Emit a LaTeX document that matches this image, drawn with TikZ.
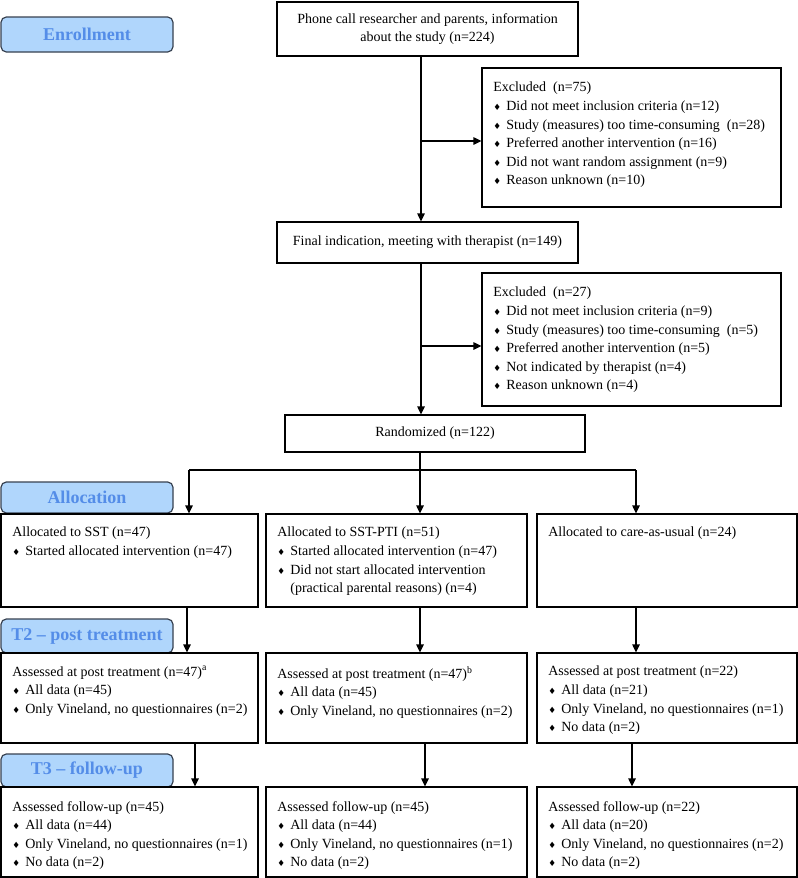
\documentclass[tikz,border=0pt]{standalone}
\usepackage{fontspec}
\setmainfont{Liberation Serif}
\newfontfamily\symfont{DejaVu Sans}
\usetikzlibrary{fit,arrows.meta}
\definecolor{phasefill}{RGB}{176,214,252}
\definecolor{phasetext}{RGB}{84,141,232}
\definecolor{phasedraw}{RGB}{55,65,80}
\tikzset{
 box/.style={draw, line width=0.8pt, inner sep=0pt},
 phase/.style={draw=phasedraw, fill=phasefill, line width=0.9pt, rounded corners=4pt, inner sep=0pt},
 phasetxt/.style={text=phasetext, font=\fontsize{13.5}{15}\selectfont\bfseries, inner sep=0pt},
 txt/.style={font=\fontsize{10.5}{13.9}\selectfont, align=left, inner sep=0pt, anchor=north west},
 ctxt/.style={font=\fontsize{10.5}{13.9}\selectfont, align=center, inner sep=0pt},
 arr/.style={line width=1.1pt, -{Triangle[length=6pt,width=5.5pt]}},
 ln/.style={line width=1.1pt},
}
\newcommand{\bul}{{\symfont\fontsize{6.5}{6.5}\selectfont ♦}\hspace{4pt}}
\begin{document}
\begin{tikzpicture}[x=0.75pt,y=-0.75pt]
\useasboundingbox (0,0) rectangle (798,878);
% phase boxes
\node[phase, fit={(1,17)(173,52)}] (enr) {};
\node[phasetxt] at (enr.center) {Enrollment};
\node[phase, fit={(1,482)(173,513)}] (alc) {};
\node[phasetxt] at (alc.center) {Allocation};
\node[phase, fit={(1,619)(173,653)}] (ttwo) {};
\node[phasetxt] at (ttwo.center) {T2 – post treatment};
\node[phase, fit={(1,754)(173,787)}] (tthree) {};
\node[phasetxt] at (tthree.center) {T3 – follow-up};
% enrollment boxes
\node[box, fit={(277,2)(578,56)}] (phone) {};
\node[ctxt] at (phone.center) {Phone call researcher and parents, information\\about the study (n=224)};
\node[box, fit={(482,68)(781,207)}] (exa) {};
\node[txt] at (493,82) {Excluded\ \ (n=75)\\
\bul Did not meet inclusion criteria (n=12)\\
\bul Study (measures) too time-consuming\ \ (n=28)\\
\bul Preferred another intervention (n=16)\\
\bul Did not want random assignment (n=9)\\
\bul Reason unknown (n=10)};
\node[box, fit={(277,222)(578,263)}] (final) {};
\node[ctxt] at (final.center) {Final indication, meeting with therapist (n=149)};
\node[box, fit={(482,273)(781,406)}] (exb) {};
\node[txt] at (493,287) {Excluded\ \ (n=27)\\
\bul Did not meet inclusion criteria (n=9)\\
\bul Study (measures) too time-consuming\ \ (n=5)\\
\bul Preferred another intervention (n=5)\\
\bul Not indicated by therapist (n=4)\\
\bul Reason unknown (n=4)};
\node[box, fit={(285,415)(585,452)}] (rand) {};
\node[ctxt] at (rand.center) {Randomized (n=122)};
% allocation row
\node[box, fit={(1,514)(258,607)}] (sst) {};
\node[txt] at (12,527) {Allocated to SST (n=47)\\
\bul Started allocated intervention (n=47)};
\node[box, fit={(266,514)(527,607)}] (pti) {};
\node[txt] at (277,527) {Allocated to SST-PTI (n=51)\\
\bul Started allocated intervention (n=47)\\
\bul Did not start allocated intervention\\
\phantom{\bul}(practical parental reasons) (n=4)};
\node[box, fit={(537,514)(797,607)}] (cau) {};
\node[txt] at (548,527) {Allocated to care-as-usual (n=24)};
% T2 row
\node[box, fit={(1,653)(258,743)}] (sstb) {};
\node[txt] at (12,666) {Assessed at post treatment (n=47)\textsuperscript{a}\\
\bul All data (n=45)\\
\bul Only Vineland, no questionnaires (n=2)};
\node[box, fit={(266,653)(527,743)}] (ptib) {};
\node[txt] at (277,666) {Assessed at post treatment (n=47)\textsuperscript{b}\\
\bul All data (n=45)\\
\bul Only Vineland, no questionnaires (n=2)};
\node[box, fit={(537,653)(797,743)}] (caub) {};
\node[txt] at (548,666) {Assessed at post treatment (n=22)\\
\bul All data (n=21)\\
\bul Only Vineland, no questionnaires (n=1)\\
\bul No data (n=2)};
% T3 row
\node[box, fit={(1,787)(258,877)}] (sstc) {};
\node[txt] at (12,801) {Assessed follow-up (n=45)\\
\bul All data (n=44)\\
\bul Only Vineland, no questionnaires (n=1)\\
\bul No data (n=2)};
\node[box, fit={(266,787)(527,877)}] (ptic) {};
\node[txt] at (277,801) {Assessed follow-up (n=45)\\
\bul All data (n=44)\\
\bul Only Vineland, no questionnaires (n=1)\\
\bul No data (n=2)};
\node[box, fit={(537,787)(797,877)}] (cauc) {};
\node[txt] at (548,801) {Assessed follow-up (n=22)\\
\bul All data (n=20)\\
\bul Only Vineland, no questionnaires (n=2)\\
\bul No data (n=2)};
% connectors
\coordinate (mx) at (421,0);
\coordinate (ja) at (421,141);
\coordinate (jb) at (421,346);
\draw[arr] (phone.south -| mx) -- (final.north -| mx);
\draw[arr] (ja) -- (ja -| exa.west);
\draw[arr] (final.south -| mx) -- (rand.north -| mx);
\draw[arr] (jb) -- (jb -| exb.west);
\coordinate (bl) at (189,470);
\coordinate (bm) at (420,470);
\coordinate (br) at (636,470);
\draw[ln] (rand.south -| bm) -- (bm);
\draw[ln] (bl) -- (br);
\draw[arr] (bl) -- (bl |- sst.north);
\draw[arr] (bm) -- (bm |- pti.north);
\draw[arr] (br) -- (br |- cau.north);
\coordinate (xa) at (187,0);
\coordinate (xb) at (420,0);
\coordinate (xc) at (636,0);
\draw[arr] (sst.south -| xa) -- (sstb.north -| xa);
\draw[arr] (pti.south -| xb) -- (ptib.north -| xb);
\draw[arr] (cau.south -| xc) -- (caub.north -| xc);
\coordinate (ya) at (195,0);
\coordinate (yb) at (425,0);
\coordinate (yc) at (632,0);
\draw[arr] (sstb.south -| ya) -- (sstc.north -| ya);
\draw[arr] (ptib.south -| yb) -- (ptic.north -| yb);
\draw[arr] (caub.south -| yc) -- (cauc.north -| yc);
\end{tikzpicture}
\end{document}
